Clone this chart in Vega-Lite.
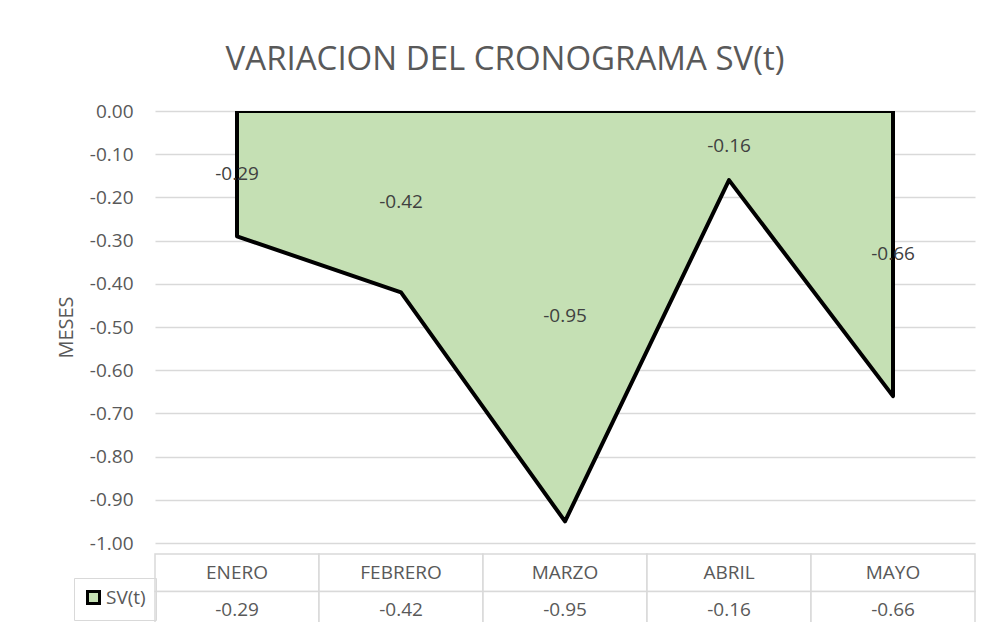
{
  "$schema": "https://vega.github.io/schema/vega-lite/v6.json",
  "background": "white",
  "padding": {"left": 56, "top": 44, "right": 4, "bottom": 2},
  "config": {
    "view": {"stroke": null},
    "font": "Open Sans",
    "concat": {"spacing": 0},
    "locale": {"number": {"decimal": ".", "thousands": ",", "grouping": [3], "currency": ["$", ""], "minus": "-"}}
  },
  "title": {
    "text": "VARIACION DEL CRONOGRAMA SV(t)",
    "fontSize": 33,
    "fontWeight": "normal",
    "font": "Open Sans",
    "color": "#595959",
    "anchor": "middle",
    "offset": 25,
    "dx": -11
  },
  "data": {
    "values": [
      {"month": "ENERO", "sv": -0.29},
      {"month": "FEBRERO", "sv": -0.42},
      {"month": "MARZO", "sv": -0.95},
      {"month": "ABRIL", "sv": -0.16},
      {"month": "MAYO", "sv": -0.66}
    ]
  },
  "vconcat": [
    {
      "width": 820,
      "height": 432,
      "layer": [
        {
          "mark": {"type": "area", "clip": true, "stroke": "black", "strokeWidth": 4, "strokeJoin": "round", "opacity": 1, "fillOpacity": 1},
          "encoding": {
            "x": {"field": "month", "type": "ordinal", "sort": null, "scale": {"type": "point", "padding": 0.5}, "axis": null},
            "y": {
              "field": "sv", "type": "quantitative",
              "scale": {"domain": [-1, 0], "nice": false, "zero": false},
              "axis": {
                "values": [0, -0.1, -0.2, -0.3, -0.4, -0.5, -0.6, -0.7, -0.8, -0.9, -1],
                "format": ".2f",
                "grid": true, "gridColor": "#D9D9D9", "gridWidth": 1.5,
                "domain": false, "ticks": false,
                "labelPadding": 22, "labelFontSize": 19, "labelColor": "#595959", "labelFont": "Open Sans",
                "title": "MESES", "titleFontSize": 20, "titleFontWeight": "normal", "titleColor": "#595959", "titleFont": "Open Sans", "titlePadding": 13
              }
            },
            "y2": {"datum": 0},
            "fill": {
              "datum": "SV(t)",
              "type": "nominal",
              "scale": {"range": ["#C5E0B4"]},
              "legend": {
                "orient": "none",
                "legendX": -81,
                "legendY": 467,
                "title": null,
                "symbolType": "square",
                "symbolSize": 144,
                "symbolStrokeColor": "black",
                "symbolStrokeWidth": 3,
                "labelFontSize": 19,
                "labelColor": "#595959",
                "labelFont": "Open Sans",
                "labelOffset": 3,
                "padding": 10,
                "strokeColor": "#D9D9D9",
                "cornerRadius": 0
              }
            }
          }
        },
        {
          "mark": {"type": "text", "fontSize": 19, "color": "#404040", "baseline": "middle", "align": "center"},
          "encoding": {
            "x": {"field": "month", "type": "ordinal", "sort": null, "scale": {"type": "point", "padding": 0.5}, "axis": null},
            "y": {"field": "sv", "type": "quantitative", "scale": {"domain": [-2, 0], "nice": false, "zero": false}, "axis": null},
            "text": {"field": "sv", "type": "quantitative", "format": ".2f"}
          }
        }
      ],
      "resolve": {"scale": {"y": "independent"}}
    },
    {
      "width": 820,
      "height": 75,
      "layer": [
        {
          "mark": {"type": "rect", "fill": "white", "stroke": "#D9D9D9", "strokeWidth": 1.5},
          "encoding": {
            "x": {"field": "month", "type": "ordinal", "sort": null, "scale": {"type": "band", "paddingInner": 0, "paddingOuter": 0}, "axis": null},
            "y": {"datum": "cat", "type": "nominal", "scale": {"domain": ["cat", "val"], "type": "band", "paddingInner": 0, "paddingOuter": 0}, "axis": null}
          }
        },
        {
          "mark": {"type": "rect", "fill": "white", "stroke": "#D9D9D9", "strokeWidth": 1.5},
          "encoding": {
            "x": {"field": "month", "type": "ordinal", "sort": null, "axis": null},
            "y": {"datum": "val", "type": "nominal", "axis": null}
          }
        },
        {
          "mark": {"type": "text", "fontSize": 19, "color": "#595959", "baseline": "middle", "align": "center"},
          "encoding": {
            "x": {"field": "month", "type": "ordinal", "sort": null, "axis": null},
            "y": {"datum": "cat", "type": "nominal", "axis": null},
            "text": {"field": "month", "type": "nominal"}
          }
        },
        {
          "mark": {"type": "text", "fontSize": 19, "color": "#595959", "baseline": "middle", "align": "center"},
          "encoding": {
            "x": {"field": "month", "type": "ordinal", "sort": null, "axis": null},
            "y": {"datum": "val", "type": "nominal", "axis": null},
            "text": {"field": "sv", "type": "quantitative", "format": ".2f"}
          }
        }
      ]
    }
  ]
}
